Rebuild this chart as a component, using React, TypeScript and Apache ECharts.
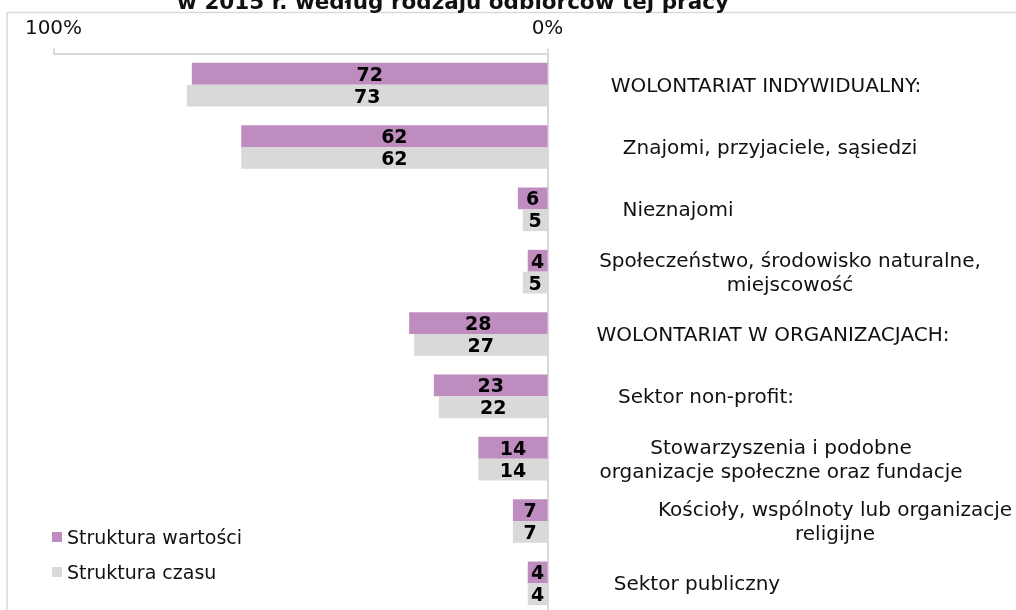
import React, { useEffect, useRef } from "react";
import * as echarts from "echarts";

const categories = [
  "WOLONTARIAT INDYWIDUALNY:",
  "Znajomi, przyjaciele, sąsiedzi",
  "Nieznajomi",
  "Społeczeństwo, środowisko naturalne,\nmiejscowość",
  "WOLONTARIAT W ORGANIZACJACH:",
  "Sektor non-profit:",
  "Stowarzyszenia i podobne\norganizacje społeczne oraz fundacje",
  "Kościoły, wspólnoty lub organizacje\nreligijne",
  "Sektor publiczny",
];
const seriesNames = ["Struktura wartości", "Struktura czasu"];
const valueStructure = [72, 62, 6, 4, 28, 23, 14, 7, 4];
const timeStructure = [73, 62, 5, 5, 27, 22, 14, 7, 4];
const axisMin = 0;
const axisMax = 100;
const titleText = "w 2015 r. według rodzaju odbiorców tej pracy";

// layout: horizontal centre (px) of each label line
const labelLineCenters = [
  [766],
  [770],
  [678],
  [790, 772],
  [773],
  [706],
  [781, 747],
  [835, 795],
  [697],
];

const FONT = "'DejaVu Sans', Verdana, sans-serif";
const PURPLE = "#bf8cbf";
const GREY = "#d9d9d9";
const ANCHOR_X = 547.5;

export default function App() {
  const ref = useRef<HTMLDivElement>(null);
  useEffect(() => {
    if (!ref.current) return;
    const chart = echarts.init(ref.current, undefined, { renderer: "svg" });
    const rich: Record<string, any> = {};
    labelLineCenters.forEach((lines, i) => {
      lines.forEach((c, j) => {
        rich[`c${i}_${j}`] = {
          width: 2 * (c - ANCHOR_X),
          align: "center",
          fontSize: 20,
          lineHeight: 24,
          fontFamily: FONT,
          color: "#111",
        };
      });
    });
    const barLabel = {
      show: true,
      position: "inside",
      color: "#000",
      fontWeight: "bold",
      fontSize: 19,
      fontFamily: FONT,
    };
    chart.setOption({
      animation: false,
      textStyle: { fontFamily: FONT },
      grid: {
        left: 53.5,
        right: 1016 - ANCHOR_X,
        top: 53.5,
        height: 561,
        containLabel: false,
        outerBoundsMode: "none",
      },
      legend: {
        data: seriesNames,
        orient: "vertical",
        left: 52,
        top: 527,
        padding: 0,
        icon: "rect",
        itemWidth: 10,
        itemHeight: 10,
        itemGap: 15,
        textStyle: { fontSize: 19, lineHeight: 20, color: "#111", fontFamily: FONT },
      },
      xAxis: {
        type: "value",
        position: "top",
        inverse: true,
        min: axisMin,
        max: axisMax,
        interval: 100,
        axisLine: { show: true, lineStyle: { color: GREY, width: 2 } },
        axisTick: { show: true, length: 5, lineStyle: { color: GREY, width: 2 } },
        splitLine: { show: false },
        axisLabel: {
          formatter: "{value}%",
          fontSize: 20,
          color: "#111",
          fontFamily: FONT,
          margin: 17,
        },
      },
      yAxis: {
        type: "category",
        position: "right",
        inverse: true,
        data: categories,
        axisLine: { show: true, lineStyle: { color: GREY, width: 2 } },
        axisTick: { show: false },
        axisLabel: {
          margin: 0,
          align: "left",
          formatter: (value: string, index: number) =>
            value
              .split("\n")
              .map((line, j) => `{c${index}_${j}|${line}}`)
              .join("\n"),
          rich,
        },
      },
      series: [
        {
          name: seriesNames[0],
          type: "bar",
          data: valueStructure,
          barGap: "0%",
          barCategoryGap: "30%",
          itemStyle: { color: PURPLE },
          label: barLabel,
        },
        {
          name: seriesNames[1],
          type: "bar",
          data: timeStructure,
          barGap: "0%",
          barCategoryGap: "30%",
          itemStyle: { color: GREY },
          label: barLabel,
        },
      ],
      graphic: [
        {
          type: "rect",
          z: -10,
          shape: { x: 7, y: 12.5, width: 1200, height: 800 },
          style: { fill: "none", stroke: GREY, lineWidth: 1.5 },
        },
        {
          type: "text",
          x: 453,
          y: 1,
          style: {
            text: titleText,
            fontSize: 21.5,
            fontWeight: "bold",
            fontFamily: FONT,
            fill: "#111",
            align: "center",
            verticalAlign: "middle",
          },
        },
      ],
    });
    return () => chart.dispose();
  }, []);
  return (
    <div
      ref={ref}
      style={{ position: "fixed", left: 0, top: 0, width: 1016, height: 620 }}
    />
  );
}
